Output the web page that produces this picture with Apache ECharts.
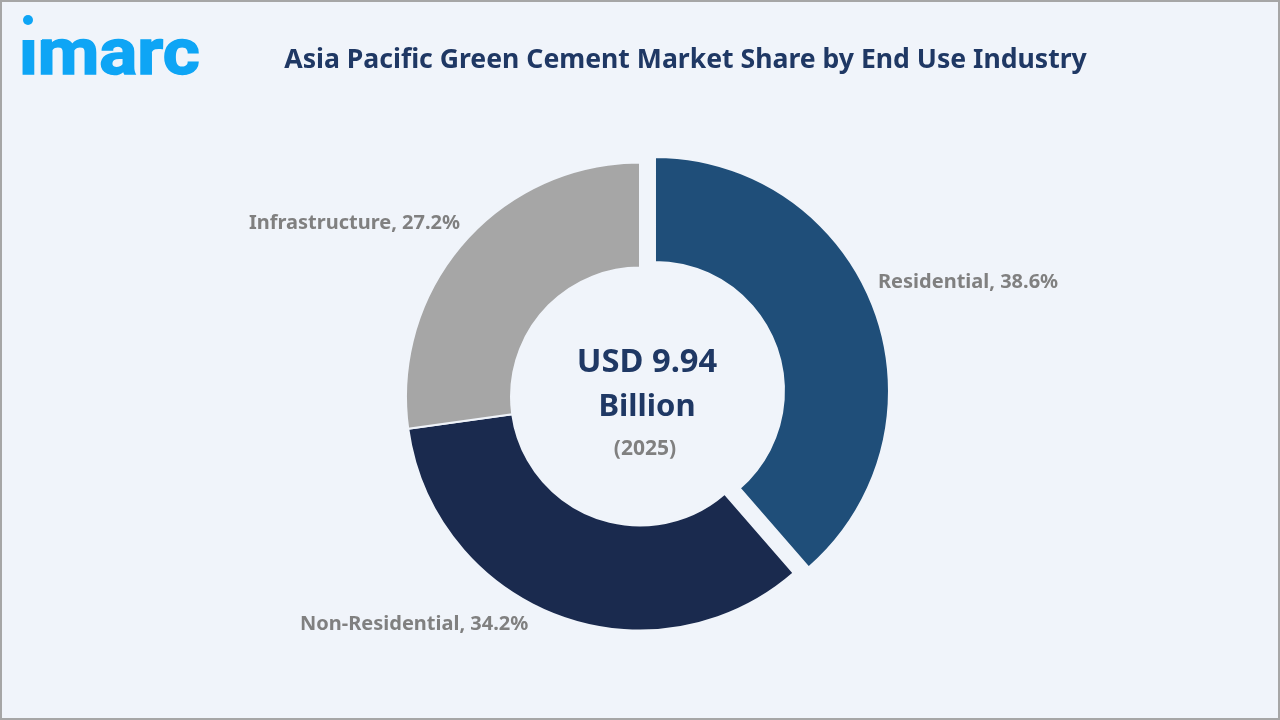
<!DOCTYPE html>
<html>
<head>
<meta charset="utf-8">
<title>Asia Pacific Green Cement Market Share by End Use Industry</title>
<script src="https://cdn.jsdelivr.net/npm/echarts@6/dist/echarts.min.js"></script>
<style>
html, body { margin: 0; padding: 0; background: #f0f4fa; }
#main { width: 1280px; height: 720px; }
</style>
</head>
<body>
<div id="main"></div>
<script>
var categories = ['Residential', 'Non-Residential', 'Infrastructure'];
var shares = [38.6, 34.2, 27.2];
var sliceColors = ['#1f4e79', '#1a2a4e', '#a6a6a6'];
var labelSpots = [[878, 282], [300, 624], [249, 223]];

var myChart = echarts.init(document.getElementById('main'));

var pieData = [];
for (var i = 0; i < categories.length; i++) {
    pieData.push({
        name: categories[i],
        value: shares[i],
        selected: i === 0,
        itemStyle: { color: sliceColors[i] },
        // selected slice ignores labelLayout, its label is drawn in graphic below
        label: { show: i !== 0 }
    });
}

var option = {
    backgroundColor: '#f0f4fa',
    animation: false,
    series: [{
        type: 'pie',
        center: [640, 396.5],
        radius: [129, 234],
        startAngle: 90,
        clockwise: true,
        selectedMode: 'single',
        selectedOffset: 16,
        itemStyle: { borderColor: '#f0f4fa', borderWidth: 2 },
        label: {
            show: true,
            position: 'outside',
            formatter: '{b}, {c}%',
            color: '#808080',
            fontFamily: 'Noto Sans',
            fontWeight: 'bold',
            fontSize: 20
        },
        labelLine: { show: false },
        labelLayout: function (params) {
            var spot = labelSpots[params.dataIndex];
            return { x: spot[0], y: spot[1], align: 'left', verticalAlign: 'middle' };
        },
        emphasis: { disabled: true },
        data: pieData
    }],
    graphic: [
        { type: 'rect', shape: { x: 1, y: 1, width: 1278, height: 718 },
          style: { fill: 'none', stroke: '#a6a6a6', lineWidth: 2 } },
        { type: 'text', x: labelSpots[0][0], y: labelSpots[0][1],
          style: { text: categories[0] + ', ' + shares[0] + '%', align: 'left', verticalAlign: 'middle',
                   fill: '#808080', font: '700 20px "Noto Sans"' } },
        { type: 'text', x: 685.5, y: 60,
          style: { text: 'Asia Pacific Green Cement Market Share by End Use Industry', align: 'center', verticalAlign: 'middle',
                   fill: '#1f3864', font: '700 26.6px "Noto Sans"' } },
        { type: 'text', x: 647, y: 363,
          style: { text: 'USD 9.94', align: 'center', verticalAlign: 'middle',
                   fill: '#1f3864', font: '700 32.7px "Noto Sans"' } },
        { type: 'text', x: 647, y: 407,
          style: { text: 'Billion', align: 'center', verticalAlign: 'middle',
                   fill: '#1f3864', font: '700 31px "Noto Sans"' } },
        { type: 'text', x: 645, y: 449,
          style: { text: '(2025)', align: 'center', verticalAlign: 'middle',
                   fill: '#808080', font: '700 21px "Noto Sans"' } },
        // logo: wordmark, with the i dot lifted clear of the stem
        { type: 'text', x: 19, y: 58, scaleX: 1.11,
          style: { text: 'imarc', align: 'left', verticalAlign: 'middle',
                   fill: '#0ea5f5', stroke: '#0ea5f5', lineWidth: 1.5, font: '700 64px "Roboto"' } },
        { type: 'rect', shape: { x: 18, y: 22, width: 24, height: 18 }, style: { fill: '#f0f4fa' } },
        { type: 'circle', shape: { cx: 28, cy: 20, r: 5 }, style: { fill: '#0ea5f5' } }
    ]
};

myChart.setOption(option);
</script>
</body>
</html>
